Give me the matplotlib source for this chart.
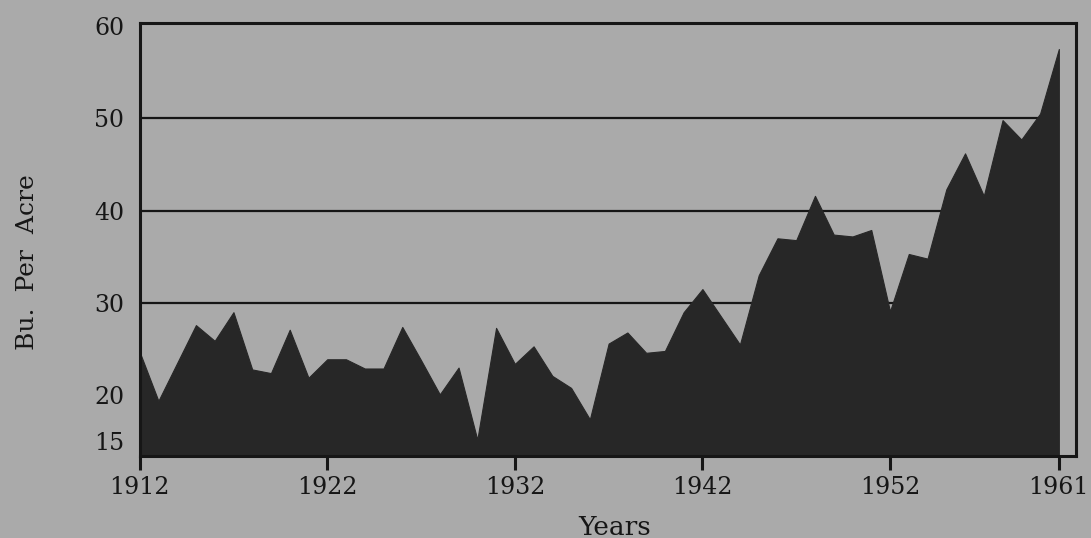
import matplotlib
matplotlib.use("Agg")
import matplotlib.pyplot as plt

years = list(range(1912, 1962))
yields = [24.7, 19.4, 23.5, 27.6, 25.9, 29.0, 22.8, 22.4, 27.1, 21.9,
          23.9, 23.9, 22.9, 22.9, 27.4, 23.8, 20.1, 23.0, 15.2, 27.3,
          23.4, 25.3, 22.1, 20.8, 17.4, 25.6, 26.8, 24.6, 24.8, 29.0,
          31.5, 28.5, 25.5, 33.0, 37.0, 36.8, 41.6, 37.4, 37.2, 37.9,
          29.1, 35.3, 34.8, 42.3, 46.2, 41.6, 49.8, 47.7, 50.5, 57.5]
xtick_years = [1912, 1922, 1932, 1942, 1952, 1961]
ytick_vals = [15, 20, 30, 40, 50, 60]
grid_vals = [30, 40, 50]

bg = "#aaaaaa"
ink = "#161616"
fillc = "#272727"
serif = ["DejaVu Serif", "Liberation Serif"]

fig = plt.figure(figsize=(10.91, 5.38), dpi=100, facecolor=bg)
ax = fig.add_axes([0.128, 0.152, 0.858, 0.805], facecolor=bg)

ymin, ymax = 13.4, 60.3
ax.set_xlim(1912, 1961.9)
ax.set_ylim(ymin, ymax)

ax.hlines(grid_vals, 1912, 1961, colors=ink, linewidth=1.6, zorder=1)
ax.fill_between(years, ymin, yields, color=fillc, linewidth=0.8,
                edgecolor=fillc, zorder=2)

for s in ax.spines.values():
    s.set_linewidth(2.2)
    s.set_color(ink)
    s.set_zorder(3)

ax.set_xticks(xtick_years)
ax.set_xticklabels([str(y) for y in xtick_years], fontsize=17, family=serif, color=ink)
ax.tick_params(axis="x", direction="out", length=10, width=2.2, color=ink, pad=4)

ax.set_yticks(ytick_vals)
ax.set_yticklabels([str(v) for v in ytick_vals], fontsize=17, family=serif, color=ink)
ax.tick_params(axis="y", length=0, pad=11)

ax.set_xlabel("Years", fontsize=19, family=serif, color=ink)
ax.xaxis.set_label_coords(0.507, -0.135)
ax.set_ylabel("Bu.  Per  Acre", fontsize=18, family=serif, color=ink)
ax.yaxis.set_label_coords(-0.108, 0.448)

fig.savefig("out.png", dpi=100, facecolor=bg)
